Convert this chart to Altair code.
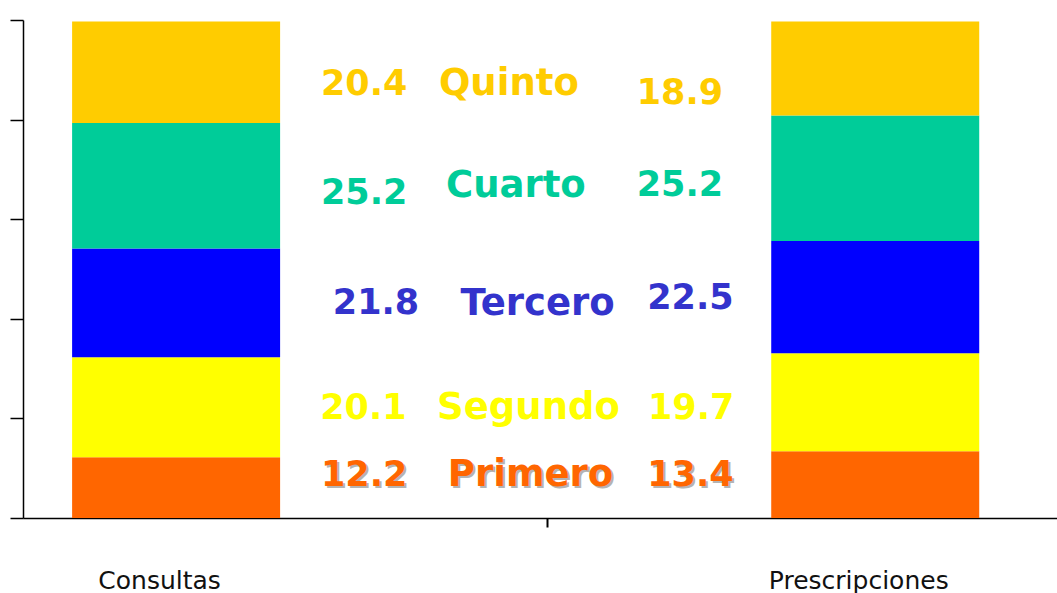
import altair as alt
import pandas as pd

# ---- data ----
grupos = ["Consultas", "Prescripciones"]
grupo_pos = [1, 2]
quintiles = ["Primero", "Segundo", "Tercero", "Cuarto", "Quinto"]
consultas = [12.2, 20.1, 21.8, 25.2, 20.4]
prescripciones = [13.4, 19.7, 22.5, 25.2, 18.9]

# ---- styles ----
bar_colors = ["#FF6600", "#FFFF00", "#0000FF", "#00CC99", "#FFCC00"]
text_colors = ["#FF6600", "#FFFF00", "#3333CC", "#00CC99", "#FFCC00"]
# vertical nudges (in % units) of the labels relative to the middle of the segment
nudge_left = [2.5, -0.2, 0.0, -1.4, -2.4]
nudge_word = [2.5, -0.2, -0.2, 0.0, -2.4]
nudge_right = [1.9, -1.2, -0.2, -1.3, -4.9]
# horizontal nudges (in x units) of the labels
word_dx = [0.007, 0.004, 0.017, -0.014, -0.024]
left_dx = [0.0, -0.001, 0.017, 0.0, 0.0]
right_dx = [0.006, 0.007, 0.006, -0.009, -0.009]
mid_tick = 1.53

rows = []
for g, pos, vals in zip(grupos, grupo_pos, [consultas, prescripciones]):
    cum = 0.0
    for i, (q, v) in enumerate(zip(quintiles, vals)):
        rows.append(dict(grupo=g, pos=pos, quintil=q, rank=i, valor=v,
                         mid=cum + v / 2, label=f"{v:.1f}", tcolor=text_colors[i]))
        cum += v
df = pd.DataFrame(rows)

left = df[df.grupo == grupos[0]].copy().reset_index(drop=True)
left["ylab"] = left["mid"] + nudge_left
left["pos"] = left["pos"] + pd.Series(left_dx)
right = df[df.grupo == grupos[1]].copy().reset_index(drop=True)
right["ylab"] = right["mid"] + nudge_right
right["pos"] = right["pos"] + pd.Series(right_dx)
words = df[df.grupo == grupos[0]].copy().reset_index(drop=True)
words["ylab"] = words["mid"] + nudge_word
words["label"] = quintiles
words["pos"] = sum(grupo_pos) / len(grupo_pos) + pd.Series(word_dx)

label_expr = " : ".join(
    [f"datum.value == {p} ? '{g}'" for p, g in zip(grupo_pos, grupos)]
) + " : ''"

xscale = alt.Scale(domain=[0.781, 2.26], nice=False, zero=False, padding=0)
yscale = alt.Scale(domain=[0, 100], nice=False)

x_axis = alt.Axis(
    values=[grupo_pos[0], mid_tick, grupo_pos[1]],
    labelExpr=label_expr,
    tickColor={"condition": {"test": f"datum.value == {mid_tick}", "value": "black"},
               "value": "transparent"},
    tickSize=9, tickWidth=2,
    domainColor="black", domainWidth=1.5,
    grid=False, title=None,
    labelFont="DejaVu Sans", labelFontSize=25, labelColor="#111111",
    labelPadding=41, labelOffset=-17, labelOverlap=False, labelFlush=False,
)
y_axis = alt.Axis(
    values=[0, 20, 40, 60, 80, 100], labels=False,
    tickSize=13, tickColor="black", tickWidth=1.5,
    domainColor="black", domainWidth=1.5, grid=False, title=None,
)

bars = alt.Chart(df).mark_bar(size=208).encode(
    x=alt.X("pos:Q", scale=xscale, axis=x_axis),
    y=alt.Y("valor:Q", stack="zero", scale=yscale, axis=y_axis),
    color=alt.Color("quintil:N", scale=alt.Scale(domain=quintiles, range=bar_colors), legend=None),
    order=alt.Order("rank:Q", sort="ascending"),
)

def text_layer(data, dx, size, shadow=False):
    mk = dict(font="DejaVu Sans", fontWeight="bold", fontSize=size,
              align="center", baseline="middle")
    if shadow:
        d = data[data.quintil == quintiles[0]]
        return alt.Chart(d).mark_text(dx=dx + 2, dy=2, color="#B4B4B4", **mk).encode(
            x=alt.X("pos:Q", scale=xscale),
            y=alt.Y("ylab:Q", scale=yscale),
            text="label:N",
        )
    return alt.Chart(data).mark_text(dx=dx, **mk).encode(
        x=alt.X("pos:Q", scale=xscale),
        y=alt.Y("ylab:Q", scale=yscale),
        text="label:N",
        color=alt.Color("tcolor:N", scale=None),
    )

layers = [bars]
for data, dx, size in [(left, 188, 35), (words, 0, 37), (right, -189, 35)]:
    layers.append(text_layer(data, dx, size, shadow=True))
    layers.append(text_layer(data, dx, size))

chart = alt.layer(*layers).properties(
    width=1034, height=498,
    padding={"left": 23, "top": 20, "right": 0, "bottom": 75},
    autosize=alt.AutoSizeParams(type="none"),
).configure_view(stroke=None)

chart.save("out.html", embed_options={"renderer": "svg", "actions": False})
